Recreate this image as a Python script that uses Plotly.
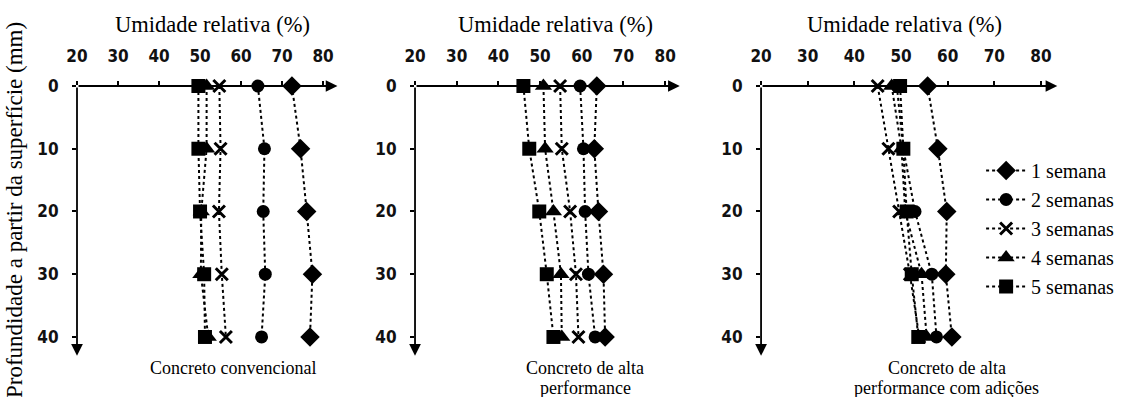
import plotly.graph_objects as go

depth = [0, 10, 20, 30, 40]
series_names = ["1 semana", "2 semanas", "3 semanas", "4 semanas", "5 semanas"]
x_ticks = [20, 30, 40, 50, 60, 70, 80]
y_ticks = [0, 10, 20, 30, 40]

# Concreto convencional
conv_1 = [72.4, 74.5, 76.0, 77.4, 76.8]
conv_2 = [64.1, 65.7, 65.4, 65.9, 65.0]
conv_3 = [54.7, 55.0, 54.6, 55.3, 56.3]
conv_4 = [51.6, 51.6, 50.3, 50.2, 52.0]
conv_5 = [49.6, 49.6, 50.0, 51.0, 51.2]

# Concreto de alta performance
cad_1 = [63.6, 63.0, 64.0, 65.2, 65.6]
cad_2 = [59.6, 60.4, 60.8, 61.6, 63.2]
cad_3 = [54.8, 55.2, 57.2, 58.6, 59.2]
cad_4 = [50.8, 51.2, 53.2, 55.0, 55.2]
cad_5 = [46.0, 47.4, 49.8, 51.6, 53.2]

# Concreto de alta performance com adições
cada_1 = [55.7, 57.9, 59.8, 59.6, 60.9]
cada_2 = [49.1, 50.5, 53.0, 56.6, 57.6]
cada_3 = [45.0, 47.3, 49.6, 51.9, 53.9]
cada_4 = [48.0, 50.1, 50.9, 54.4, 55.5]
cada_5 = [49.8, 50.5, 51.2, 52.3, 53.7]

panels = [
    [conv_1, conv_2, conv_3, conv_4, conv_5],
    [cad_1, cad_2, cad_3, cad_4, cad_5],
    [cada_1, cada_2, cada_3, cada_4, cada_5],
]
subtitles = [["Concreto convencional"],
             ["Concreto de alta", "performance"],
             ["Concreto de alta", "performance com adições"]]

symbols = ["diamond", "circle", "x-thin", "triangle-up", "square"]
sizes = [15, 13, 12, 15, 14]

SERIF = "Liberation Serif"
TICKF = "DejaVu Sans Condensed"

X_RANGE = [20, 83.5]
Y_RANGE = [43, 0]
x_domains = [[0.0682, 0.2989], [0.3676, 0.6021], [0.6741, 0.9365]]
y_domain = [0.1038, 0.7834]
title_x = [212, 555, 904]
sub_x = [233, 585, 947]

fig = go.Figure()
for p, data in enumerate(panels):
    xa = "x" if p == 0 else f"x{p+1}"
    ya = "y" if p == 0 else f"y{p+1}"
    for i, vals in enumerate(data):
        sym = symbols[i]
        mk = dict(symbol=sym, size=sizes[i], color="black")
        if sym == "x-thin":
            mk["line"] = dict(color="black", width=3)
        else:
            mk["line"] = dict(color="black", width=0)
        fig.add_trace(go.Scatter(
            x=vals, y=depth, xaxis=xa, yaxis=ya, mode="lines+markers",
            name=series_names[i], legendgroup=series_names[i],
            showlegend=(p == 2), cliponaxis=False,
            line=dict(color="black", width=2, dash="dot"), marker=mk,
        ))

layout = dict(
    width=1129, height=397, margin=dict(l=0, r=0, t=0, b=0, autoexpand=False),
    paper_bgcolor="white", plot_bgcolor="white", showlegend=True,
    legend=dict(x=0.869, y=1 - 151 / 397, xanchor="left", yanchor="top",
                font=dict(family=SERIF, size=20, color="black"),
                tracegroupgap=0, bgcolor="rgba(0,0,0,0)", itemwidth=40),
)
annotations = []
for p in range(3):
    xk = "xaxis" if p == 0 else f"xaxis{p+1}"
    yk = "yaxis" if p == 0 else f"yaxis{p+1}"
    xr = "x" if p == 0 else f"x{p+1}"
    yr = "y" if p == 0 else f"y{p+1}"
    layout[xk] = dict(domain=x_domains[p], range=X_RANGE, anchor=yr, side="top",
                      tickvals=x_ticks, ticks="outside", ticklen=4, tickwidth=1.5,
                      tickcolor="black", showline=False, showgrid=False, zeroline=False,
                      ticklabelstandoff=12, automargin=False,
                      tickfont=dict(family=TICKF, size=17, color="#111", weight="bold"))
    layout[yk] = dict(domain=y_domain, range=Y_RANGE, anchor=xr,
                      tickvals=y_ticks, ticks="outside", ticklen=4, tickwidth=1.5,
                      tickcolor="black", showline=False, showgrid=False,
                      zeroline=False, ticklabelstandoff=10, automargin=False,
                      tickfont=dict(family=TICKF, size=17, color="#111", weight="bold"))
    # axis arrows
    annotations.append(dict(x=X_RANGE[1], y=0, ax=X_RANGE[0], ay=0, xref=xr, yref=yr,
                            axref=xr, ayref=yr, showarrow=True, arrowhead=2,
                            arrowsize=1.3, arrowwidth=1.8, arrowcolor="black",
                            text="", standoff=0, startstandoff=0))
    annotations.append(dict(x=X_RANGE[0], y=Y_RANGE[0], ax=X_RANGE[0], ay=0, xref=xr,
                            yref=yr, axref=xr, ayref=yr, showarrow=True, arrowhead=2,
                            arrowsize=1.3, arrowwidth=1.8, arrowcolor="black",
                            text="", standoff=0, startstandoff=0))
    annotations.append(dict(x=title_x[p] / 1129, y=1 - 25 / 397, xref="paper",
                            yref="paper", xanchor="center", yanchor="middle",
                            text="Umidade relativa (%)", showarrow=False,
                            font=dict(family=SERIF, size=22.5, color="black")))
    for j, line in enumerate(subtitles[p]):
        annotations.append(dict(x=sub_x[p] / 1129, y=1 - (368 + 20 * j) / 397,
                                xref="paper", yref="paper", xanchor="center",
                                yanchor="middle", text=line, showarrow=False,
                                font=dict(family=SERIF, size=18, color="black")))
annotations.append(dict(x=14 / 1129, y=1 - 20 / 397, xref="paper", yref="paper",
                        xanchor="center", yanchor="top", textangle=-90,
                        text="Profundidade a partir da superfície (mm)",
                        showarrow=False,
                        font=dict(family=SERIF, size=23, color="black")))
layout["annotations"] = annotations
fig.update_layout(**layout)
fig.write_html("out.html")
